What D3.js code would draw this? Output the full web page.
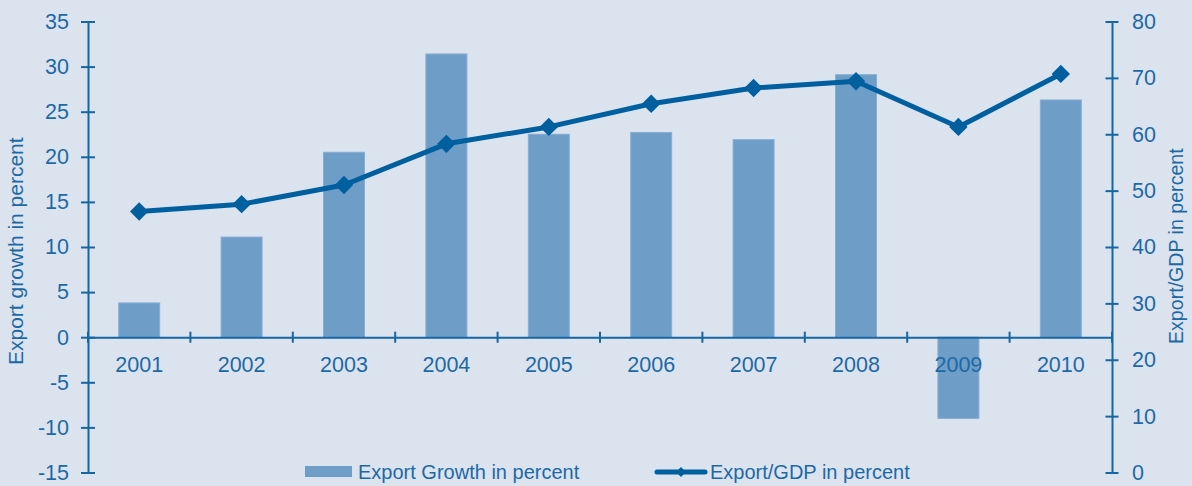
<!DOCTYPE html>
<html>
<head>
<meta charset="utf-8">
<script src="https://cdn.jsdelivr.net/npm/d3@7"></script>
<style>
  html, body { margin: 0; padding: 0; background: #dbe3ef; }
  svg { display: block; font-family: "Liberation Sans", Arial, sans-serif; }
</style>
</head>
<body>
<svg id="chart" width="1192" height="486"></svg>
<script>
// Years on the category axis
const years = ["2001", "2002", "2003", "2004", "2005", "2006", "2007", "2008", "2009", "2010"];
// Annual export growth, percent (bars, left axis)
const exportGrowth = [3.8, 11.1, 20.5, 31.4, 22.5, 22.7, 21.9, 29.1, -9.0, 26.3];
// Exports as a share of GDP, percent (line, right axis)
const exportToGdp = [46.3, 47.6, 51.0, 58.3, 61.3, 65.4, 68.2, 69.4, 61.3, 70.7];
// Axis tick values
const leftTicks = [-15, -10, -5, 0, 5, 10, 15, 20, 25, 30, 35];
const rightTicks = [0, 10, 20, 30, 40, 50, 60, 70, 80];

const AXIS = "#1566a3", TEXT = "#1d69a5", LINE = "#005f9e", BAR = "#6e9dc7";

const svg = d3.select("#chart");
const plotLeft = 88, plotRight = 1112, plotTop = 21.5, plotBottom = 472.5;

const x = d3.scaleBand().domain(years).range([plotLeft, plotRight]).padding(0);
const xBar = d3.scaleBand().domain(years).range([plotLeft, plotRight]).paddingInner(0.6).paddingOuter(0.3);
const yL = d3.scaleLinear().domain([-15, 35]).range([plotBottom, plotTop]);
const yR = d3.scaleLinear().domain([0, 80]).range([plotBottom, plotTop]);

// Plain hyphen for negative numbers
const plain = d => String(d);

// Bars
svg.append("g").selectAll("rect")
  .data(years.map((y, i) => ({ year: y, v: exportGrowth[i] })))
  .join("rect")
  .attr("x", d => xBar(d.year))
  .attr("width", xBar.bandwidth())
  .attr("y", d => yL(Math.max(0, d.v)))
  .attr("height", d => Math.abs(yL(d.v) - yL(0)))
  .attr("fill", BAR)
  .attr("stroke", "#86acd2")
  .attr("stroke-width", 1);

function styleAxis(g) {
  g.select(".domain").attr("stroke", AXIS).attr("stroke-width", 2);
  g.selectAll(".tick line").attr("stroke", AXIS).attr("stroke-width", 2);
  g.selectAll(".tick text").attr("fill", TEXT).style("font-size", "21.5px")
    .style("font-family", "'Liberation Sans', Arial, sans-serif");
}

// Left axis (ticks cross the axis line)
const gL = svg.append("g").attr("transform", `translate(${plotLeft},0)`)
  .call(d3.axisLeft(yL).tickValues(leftTicks).tickFormat(plain)
    .tickSizeInner(7).tickSizeOuter(0).tickPadding(12));
gL.selectAll(".tick line").attr("x1", 7);
styleAxis(gL);

// Right axis
const gR = svg.append("g").attr("transform", `translate(${plotRight},0)`)
  .call(d3.axisRight(yR).tickValues(rightTicks).tickFormat(plain)
    .tickSizeInner(6.5).tickSizeOuter(0).tickPadding(13.5));
gR.selectAll(".tick line").attr("x1", -6.5);
styleAxis(gR);

// Category axis at zero
const gX = svg.append("g").attr("transform", `translate(0,${yL(0)})`)
  .call(d3.axisBottom(x).tickSize(0).tickPadding(20));
styleAxis(gX);
gX.selectAll(".tick line").remove();
// Tick marks between categories
gX.selectAll(".sep")
  .data(years.map(d => x(d)).concat([x.range()[1]]))
  .join("line")
  .attr("class", "sep")
  .attr("x1", d => d).attr("x2", d => d)
  .attr("y1", -5.5).attr("y2", 5.5)
  .attr("stroke", AXIS).attr("stroke-width", 2);

// Export/GDP line
const pts = years.map((y, i) => [x(y) + x.bandwidth() / 2, yR(exportToGdp[i])]);
svg.append("path")
  .attr("d", d3.line()(pts))
  .attr("fill", "none")
  .attr("stroke", LINE)
  .attr("stroke-width", 5)
  .attr("stroke-linejoin", "round");

const marker = d3.symbol().type(d3.symbolSquare).size(169);
svg.append("g").selectAll("path")
  .data(pts)
  .join("path")
  .attr("d", marker)
  .attr("transform", d => `translate(${d[0]},${d[1]}) rotate(45)`)
  .attr("fill", LINE);

// Axis titles
svg.append("text")
  .attr("transform", "translate(22.5,365) rotate(-90)")
  .attr("fill", TEXT).style("font-size", "21px")
  .text("Export growth in percent");
svg.append("text")
  .attr("transform", "translate(1182.5,344) rotate(-90)")
  .attr("fill", TEXT).style("font-size", "19.6px")
  .text("Export/GDP in percent");

// Legend
const lg = svg.append("g");
lg.append("rect").attr("x", 305).attr("y", 466).attr("width", 47).attr("height", 11).attr("fill", BAR);
lg.append("text").attr("x", 358).attr("y", 479).attr("fill", TEXT).style("font-size", "20px")
  .text("Export Growth in percent");
lg.append("line").attr("x1", 657).attr("x2", 705).attr("y1", 472).attr("y2", 472)
  .attr("stroke", LINE).attr("stroke-width", 5).attr("stroke-linecap", "round");
lg.append("path").attr("d", d3.symbol().type(d3.symbolSquare).size(50))
  .attr("transform", "translate(681,472) rotate(45)").attr("fill", LINE);
lg.append("text").attr("x", 710).attr("y", 479).attr("fill", TEXT).style("font-size", "20px")
  .text("Export/GDP in percent");
</script>
</body>
</html>
